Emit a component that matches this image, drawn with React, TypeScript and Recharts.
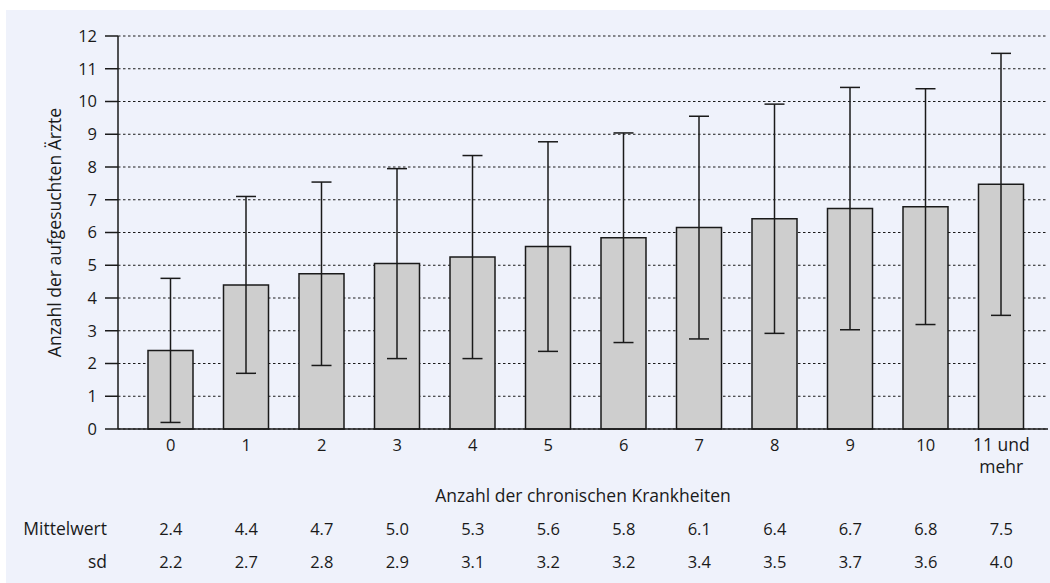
import { BarChart, Bar, XAxis, YAxis, CartesianGrid, ErrorBar } from "recharts";

const categories = ["0", "1", "2", "3", "4", "5", "6", "7", "8", "9", "10", "11 und mehr"];
// bar heights as drawn
const barMeans = [2.4, 4.4, 4.74, 5.05, 5.25, 5.57, 5.84, 6.15, 6.42, 6.73, 6.79, 7.47];
// values printed in the table row
const tableMeans = ["2.4", "4.4", "4.7", "5.0", "5.3", "5.6", "5.8", "6.1", "6.4", "6.7", "6.8", "7.5"];
const sdValues = [2.2, 2.7, 2.8, 2.9, 3.1, 3.2, 3.2, 3.4, 3.5, 3.7, 3.6, 4.0];
const yTicks = [0, 1, 2, 3, 4, 5, 6, 7, 8, 9, 10, 11, 12];

const data = categories.map((c, i) => ({
  name: c,
  mean: barMeans[i],
  sd: sdValues[i],
  tableMean: tableMeans[i],
}));

const FONT = "'Open Sans', 'Noto Sans', sans-serif";
const INK = "#1a1a1a";
const NUM_SIZE = 16.5;
const WORD_SIZE = 17.5;

// eslint-disable-next-line @typescript-eslint/no-explicit-any
function CategoryTick({ x, y, payload, index }: any) {
  const label: string = payload.value;
  const cut = label.lastIndexOf(" ");
  const lines = cut > 0 ? [label.slice(0, cut), label.slice(cut + 1)] : [label];
  const row = data[index];
  return (
    <g fontFamily={FONT} fill={INK}>
      {lines.map((l, k) => (
        <text
          key={k}
          x={x}
          y={y + 22 + k * 22}
          textAnchor="middle"
          fontSize={lines.length > 1 ? WORD_SIZE : NUM_SIZE}
        >
          {l}
        </text>
      ))}
      <text x={x} y={y + 106} textAnchor="middle" fontSize={NUM_SIZE}>
        {row ? row.tableMean : ""}
      </text>
      <text x={x} y={y + 139} textAnchor="middle" fontSize={NUM_SIZE}>
        {row ? row.sd.toFixed(1) : ""}
      </text>
      {index === 0 && (
        <>
          <text x={101} y={y + 106} textAnchor="end" fontSize={WORD_SIZE}>
            Mittelwert
          </text>
          <text x={101} y={y + 139} textAnchor="end" fontSize={WORD_SIZE}>
            sd
          </text>
        </>
      )}
    </g>
  );
}

// eslint-disable-next-line @typescript-eslint/no-explicit-any
function YTitle({ viewBox }: any) {
  const cx = 48;
  const cy = viewBox.y + viewBox.height / 2;
  return (
    <text
      x={cx}
      y={cy}
      transform={`rotate(-90 ${cx} ${cy})`}
      textAnchor="middle"
      dominantBaseline="central"
      fontFamily={FONT}
      fontSize={WORD_SIZE}
      fill={INK}
    >
      Anzahl der aufgesuchten Ärzte
    </text>
  );
}

export default function App() {
  return (
    <div style={pageStyle}>
      <div style={panelStyle}>
        <BarChart
          width={1044}
          height={570}
          data={data}
          margin={{ top: 26, right: 2, bottom: 0, left: 0 }}
        >
          <CartesianGrid
            vertical={false}
            stroke={INK}
            strokeDasharray="2.5 2.5"
          />
          <XAxis
            dataKey="name"
            height={151}
            padding={{ left: 15, right: 9 }}
            tickLine={false}
            tickSize={0}
            tickMargin={0}
            axisLine={{ stroke: INK, strokeWidth: 1.5 }}
            tick={<CategoryTick />}
            interval={0}
            label={{
              value: "Anzahl der chronischen Krankheiten",
              position: "insideTop",
              offset: 61,
              fontFamily: FONT,
              fontSize: WORD_SIZE,
              fill: INK,
            }}
          />
          <YAxis
            width={112}
            domain={[0, 12]}
            ticks={yTicks}
            interval={0}
            tickSize={13}
            tickMargin={8}
            tickLine={{ stroke: INK, strokeWidth: 1.5 }}
            axisLine={{ stroke: INK, strokeWidth: 1.5 }}
            tick={{ fontSize: NUM_SIZE, fill: INK, fontFamily: FONT }}
            label={<YTitle />}
          />
          <Bar
            dataKey="mean"
            barSize={45}
            fill="#cecece"
            stroke={INK}
            strokeWidth={1.5}
            isAnimationActive={false}
          >
            <ErrorBar
              dataKey="sd"
              width={10}
              stroke={INK}
              strokeWidth={1.5}
              direction="y"
              isAnimationActive={false}
            />
          </Bar>
        </BarChart>
      </div>
    </div>
  );
}

const pageStyle: React.CSSProperties = {
  position: "absolute",
  left: 0,
  top: 0,
  width: 1050,
  height: 583,
  background: "#ffffff",
  overflow: "hidden",
};

const panelStyle: React.CSSProperties = {
  position: "absolute",
  left: 6,
  top: 10,
  width: 1044,
  height: 573,
  background: "#eff2fb",
};
